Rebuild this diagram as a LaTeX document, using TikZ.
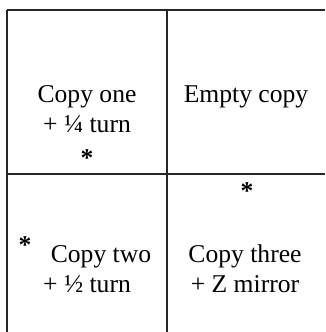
\documentclass[tikz,border=0pt]{standalone}
\usepackage{fontspec}
\setmainfont{Liberation Serif}

\tikzset{
    cell line/.style={line width=1.2pt, black!85},
    cell text/.style={anchor=base, inner sep=0pt, font=\fontsize{25.6}{30}\selectfont},
    star text/.style={cell text, font=\fontsize{25.6}{30}\selectfont\bfseries},
}

\begin{document}
\begin{tikzpicture}[x=1pt, y=-1pt]
    \useasboundingbox (0, 0) rectangle (325, 332);
    % grid lines
    \coordinate (TL) at (7, 10);
    \coordinate (TR) at (325, 10);
    \coordinate (BL) at (7, 332);
    \coordinate (TM) at (167, 10);
    \coordinate (BM) at (167, 332);
    \coordinate (ML) at (7, 174);
    \coordinate (MR) at (325, 174);
    \draw[cell line] (TL) -- (TR);
    \draw[cell line] (TL) -- (BL);
    \draw[cell line] (TM) -- (BM);
    \draw[cell line] (ML) -- (MR);

    % copy one
    \node[cell text] (one1) at (87, 102) {Copy one};
    \node[cell text] (one2) at (87, 132) {+ ¼ turn};
    \node[star text] (star1) at (87, 166) {*};
    % empty copy
    \node[cell text] (empty) at (246, 102) {Empty copy};
    % copy two
    \node[star text] (star2) at (25, 253) {*};
    \node[cell text] (two1) at (101, 262) {Copy two};
    \node[cell text] (two2) at (87, 292) {+ ½ turn};
    % copy three
    \node[star text] (star3) at (247, 199) {*};
    \node[cell text] (three1) at (245, 262) {Copy three};
    \node[cell text] (three2) at (245, 292) {+ Z mirror};
\end{tikzpicture}
\end{document}
